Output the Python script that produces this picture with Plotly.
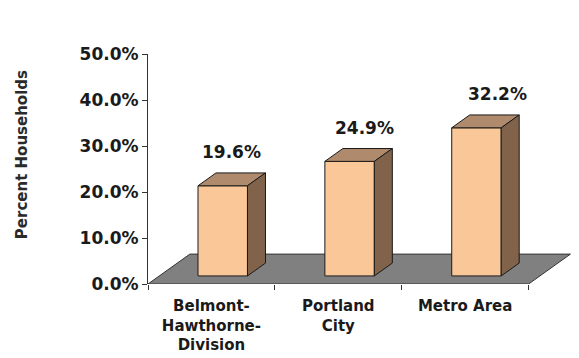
import plotly.graph_objects as go

# Share of households, by area
categories = ["Belmont-<br>Hawthorne-<br>Division", "Portland<br>City", "Metro Area"]
values = [19.6, 24.9, 32.2]
value_labels = ["19.6%", "24.9%", "32.2%"]
y_ticks = [0, 10, 20, 30, 40, 50]
y_tick_labels = ["0.0%", "10.0%", "20.0%", "30.0%", "40.0%", "50.0%"]

# Pseudo-3D geometry (x in category units, y in percent units)
DEPTH_X = 0.33      # horizontal run of the floor's depth
DEPTH_Y = 6.5       # vertical rise of the floor's depth
F_FRONT = 0.27      # depth fraction where a bar's front face sits
F_BACK = 0.70       # depth fraction where a bar's back face sits
BAR_W = 0.39

FRONT = "#FAC898"
TOP = "#B08A6C"
SIDE = "#80634A"
EDGE = "#1a1a1a"
FLOOR = "#808080"

FONT = "DejaVu Sans"
TXT = "#1a1a1a"

positions = list(range(len(categories)))
base = F_FRONT * DEPTH_Y
ddx = (F_BACK - F_FRONT) * DEPTH_X
ddy = (F_BACK - F_FRONT) * DEPTH_Y
front_x = [p + F_FRONT * DEPTH_X for p in positions]

fig = go.Figure()
fig.add_trace(go.Bar(
    x=front_x, y=values, base=base, width=BAR_W,
    marker=dict(color=FRONT, line=dict(color=EDGE, width=1)),
    hoverinfo="skip", showlegend=False,
))

shapes = []
# floor of the 3D box
x0, x1 = positions[0] - 0.5, positions[-1] + 0.5
shapes.append(dict(
    type="path", layer="below", xref="x", yref="y",
    path=f"M {x0},0 L {x1},0 L {x1 + DEPTH_X},{DEPTH_Y} L {x0 + DEPTH_X},{DEPTH_Y} Z",
    fillcolor=FLOOR, line=dict(color="#333333", width=1),
))

annotations = []
for i, (xc, v, lab) in enumerate(zip(front_x, values, value_labels)):
    xl, xr = xc - BAR_W / 2, xc + BAR_W / 2
    top = base + v
    # top face
    shapes.append(dict(
        type="path", xref="x", yref="y",
        path=f"M {xl},{top} L {xr},{top} L {xr + ddx},{top + ddy} L {xl + ddx},{top + ddy} Z",
        fillcolor=TOP, line=dict(color=EDGE, width=1),
    ))
    # right side face
    shapes.append(dict(
        type="path", xref="x", yref="y",
        path=f"M {xr},{base} L {xr + ddx},{base + ddy} L {xr + ddx},{top + ddy} L {xr},{top} Z",
        fillcolor=SIDE, line=dict(color=EDGE, width=1),
    ))
    annotations.append(dict(
        x=xc + ddx / 2, y=top + ddy, xref="x", yref="y",
        text=lab, showarrow=False, yanchor="middle", yshift=21, xshift=6 * i,
        font=dict(family=FONT, size=17, color=TXT, weight="bold"),
    ))

annotations.append(dict(
    x=-0.296, y=0.561, xref="paper", yref="paper",
    text="Percent Households", textangle=-90, showarrow=False,
    xanchor="center", yanchor="middle",
    font=dict(family=FONT, size=15, color="#2a2a2a", weight="bold"),
))

fig.update_layout(
    width=579, height=358,
    margin=dict(l=148, r=6, t=54, b=74, autoexpand=False),
    paper_bgcolor="white", plot_bgcolor="white",
    shapes=shapes, annotations=annotations,
    showlegend=False,
    xaxis=dict(
        range=[x0, x1 + DEPTH_X + 0.02], automargin=False,
        tickvals=positions, ticktext=categories,
        ticks="", showline=False, showgrid=False, zeroline=False,
        tickfont=dict(family=FONT, size=15, color=TXT, weight="bold"),
        ticklabelstandoff=11,
        minor=dict(tickvals=[p - 0.5 for p in positions] + [x1],
                   ticks="outside", ticklen=5, tickcolor="#333333"),
    ),
    yaxis=dict(
        range=[0, 50], tickvals=y_ticks, ticktext=y_tick_labels, automargin=False,
        showline=True, linecolor="#333333", linewidth=1,
        ticks="outside", ticklen=5, tickcolor="#333333",
        showgrid=False, zeroline=False,
        tickfont=dict(family=FONT, size=17, color=TXT, weight="bold"),
    ),
)

fig.write_html("out.html")
